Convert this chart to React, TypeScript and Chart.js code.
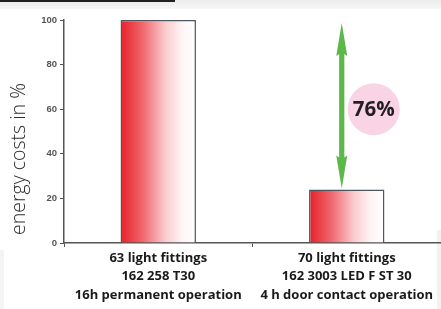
import React, { useEffect, useRef } from "react";
import { Chart, registerables } from "chart.js";

Chart.register(...registerables);

const CATEGORIES: string[][] = [
  ["63 light fittings", "162 258 T30", "16h permanent operation"],
  ["70 light fittings", "162 3003 LED F ST 30", "4 h door contact operation"],
];
const ENERGY_COSTS: number[] = [100, 24];
const Y_MIN = 0;
const Y_MAX = 100;
const Y_STEP = 20;
const Y_TITLE = "energy costs in %";
const SAVING_LABEL = "76%";
const ARROW_FROM = 100;
const ARROW_TO = 24;
const BADGE_VALUE = 60;

const BAR_PERCENT = 0.4;

const annotationPlugin = {
  id: "annotations",
  afterDatasetsDraw(chart: any) {
    const { ctx, scales } = chart;
    const xs = scales.x;
    const ys = scales.y;
    const cx = xs.getPixelForValue(1) - 5;
    const yTop = ys.getPixelForValue(ARROW_FROM) + 3;
    const yBot = ys.getPixelForValue(ARROW_TO) - 1;
    const headLen = 33;
    const headW = 5.5;
    const shaftW = 2.6;
    ctx.save();
    ctx.fillStyle = "#5cb848";
    ctx.beginPath();
    ctx.moveTo(cx, yTop);
    ctx.lineTo(cx + headW, yTop + headLen);
    ctx.lineTo(cx + shaftW, yTop + headLen - 2);
    ctx.lineTo(cx + shaftW, yBot - headLen + 2);
    ctx.lineTo(cx + headW, yBot - headLen);
    ctx.lineTo(cx, yBot);
    ctx.lineTo(cx - headW, yBot - headLen);
    ctx.lineTo(cx - shaftW, yBot - headLen + 2);
    ctx.lineTo(cx - shaftW, yTop + headLen - 2);
    ctx.lineTo(cx - headW, yTop + headLen);
    ctx.closePath();
    ctx.fill();

    // badge
    const bx = cx + 32;
    const by = ys.getPixelForValue(BADGE_VALUE);
    ctx.fillStyle = "#f9d4e5";
    ctx.beginPath();
    ctx.arc(bx, by, 26, 0, Math.PI * 2);
    ctx.fill();
    ctx.fillStyle = "#231f20";
    ctx.font = "bold 20.5px 'Open Sans'";
    ctx.textAlign = "center";
    ctx.textBaseline = "middle";
    ctx.fillText(SAVING_LABEL, bx, by + 1);

    // y title
    ctx.save();
    ctx.translate(19, 159);
    ctx.rotate(-Math.PI / 2);
    ctx.fillStyle = "#2e2e2e";
    ctx.font = "300 19.5px 'Open Sans'";
    ctx.textAlign = "center";
    ctx.textBaseline = "middle";
    ctx.fillText(Y_TITLE, 0, 0);
    ctx.restore();
    ctx.restore();
  },
};

export default function App() {
  const ref = useRef<HTMLCanvasElement | null>(null);
  useEffect(() => {
    document.body.style.margin = "0";
    const canvas = ref.current!;
    const chart = new Chart(canvas, {
      type: "bar",
      data: {
        labels: CATEGORIES,
        datasets: [
          {
            data: ENERGY_COSTS,
            backgroundColor: (c: any) => {
              const ch = c.chart;
              const xs = ch.scales?.x;
              if (!xs || c.dataIndex === undefined) return "#e8262e";
              const center = xs.getPixelForValue(c.dataIndex);
              const w = (xs.width / CATEGORIES.length) * BAR_PERCENT;
              if (!isFinite(center) || !isFinite(w) || w <= 0) return "#e8262e";
              const g = ch.ctx.createLinearGradient(center - w / 2, 0, center + w / 2, 0);
              g.addColorStop(0, "rgb(232,30,38)");
              g.addColorStop(0.3, "rgb(240,105,112)");
              g.addColorStop(0.6, "rgb(250,205,208)");
              g.addColorStop(0.82, "rgb(255,244,245)");
              g.addColorStop(1, "#ffffff");
              return g;
            },
            borderColor: "#4d5760",
            borderWidth: 1.5,
            barPercentage: BAR_PERCENT,
            categoryPercentage: 1,
          },
        ],
      },
      options: {
        animation: false,
        responsive: false,
        maintainAspectRatio: false,
        layout: { padding: { top: 20, left: 0, right: 0, bottom: 0 } },
        plugins: { legend: { display: false }, tooltip: { enabled: false }, title: { display: false } },
        scales: {
          x: {
            afterFit: (s: any) => {
              s.height = 66;
            },
            grid: { display: true, drawOnChartArea: false, drawTicks: true, tickLength: 4, color: "#555", offset: true },
            border: { display: true, color: "#555", width: 1.5 },
            ticks: {
              color: "#1a1a1a",
              padding: 2,
              font: { family: "'Open Sans'", size: 13, weight: "bold", lineHeight: 18.5 / 13 },
              maxRotation: 0,
              autoSkip: false,
            },
          },
          y: {
            min: Y_MIN,
            max: Y_MAX,
            afterFit: (s: any) => {
              s.width = 64;
            },
            grid: { display: true, drawOnChartArea: false, drawTicks: true, tickLength: 4, color: "#555" },
            border: { display: true, color: "#555", width: 1.5 },
            ticks: {
              stepSize: Y_STEP,
              color: "#555",
              padding: 3,
              font: { family: "'Liberation Sans'", size: 9.5, weight: "bold" },
            },
          },
        },
      },
      plugins: [annotationPlugin],
    });
    return () => chart.destroy();
  }, []);
  return (
    <div style={{ position: "relative", width: 441, height: 309, background: "#fff", overflow: "hidden" }}>
      <div style={{ position: "absolute", left: 0, top: 0, width: 441, height: 9, background: "linear-gradient(#ececec, #f7f7f7)" }} />
      <div style={{ position: "absolute", left: 0, top: 0, width: 175, height: 2, background: "#222" }} />
      <div style={{ position: "absolute", right: 0, top: 230, width: 4, height: 79, background: "#f2f2f2" }} />
      <div style={{ position: "absolute", left: 0, top: 250, width: 4, height: 59, background: "#f4f4f4" }} />
      <canvas ref={ref} width={441} height={309} style={{ position: "absolute", left: 0, top: 0, display: "block" }} />
    </div>
  );
}
